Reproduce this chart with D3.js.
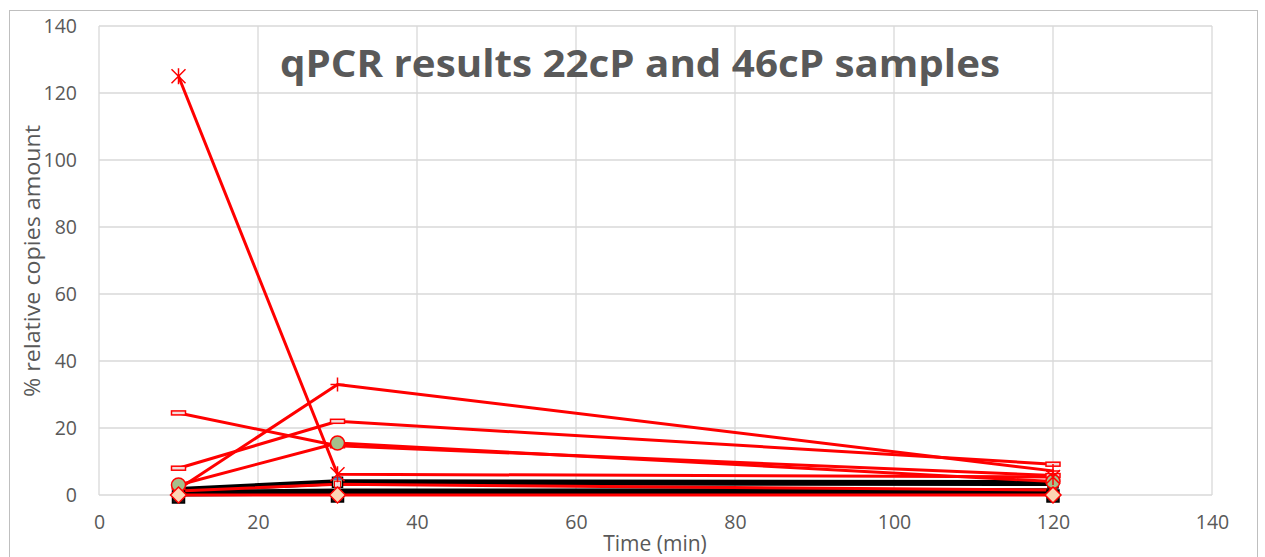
<!DOCTYPE html>
<html>
<head>
<meta charset="utf-8">
<script src="https://cdn.jsdelivr.net/npm/d3@7/dist/d3.min.js"></script>
<style>
  body { margin: 0; background: #fff; }
  text { font-family: "Open Sans", "Liberation Sans", sans-serif; }
</style>
</head>
<body>
<div id="chart"></div>
<script>
// sampling times (min)
var times = [10, 30, 120];
var xTicks = [0, 20, 40, 60, 80, 100, 120, 140];
var yTicks = [0, 20, 40, 60, 80, 100, 120, 140];

// % relative copies amount, red samples
var redStar    = [125, 6.2, 5.4];
var redPlus    = [1.8, 33, 7.2];
var redDashA   = [8, 22, 9.2];
var redDashB   = [24.5, 14.7, 5.8];
var redCircle  = [3, 15.5, 4];
var redLow     = [1.2, 3.2, 1.5];
var redDiamond = [0, 0, 0];
// black samples
var blackA = [1.5, 3.8, 3.6];
var blackB = [0.8, 1.2, 1.3];
var blackC = [0.3, 0.6, 0.6];

function set_chart(){
  var W = 1265, H = 557;
  var svg = d3.select("#chart").append("svg")
      .attr("width", W).attr("height", H);

  // outer chart frame
  svg.append("rect")
     .attr("x", 9.5).attr("y", 10.5)
     .attr("width", 1248).attr("height", 560)
     .attr("fill", "none").attr("stroke", "#bfbfbf").attr("stroke-width", 1);

  var x = d3.scaleLinear().domain([0, 140]).range([99, 1212]);
  var y = d3.scaleLinear().domain([0, 140]).range([495, 26]);

  // gridlines
  svg.append("g").selectAll("line").data(yTicks).enter().append("line")
     .attr("x1", x(0)).attr("x2", x(140))
     .attr("y1", function(d){ return y(d); }).attr("y2", function(d){ return y(d); })
     .attr("stroke", "#d9d9d9").attr("stroke-width", 1.3);
  svg.append("g").selectAll("line").data(xTicks).enter().append("line")
     .attr("y1", y(0)).attr("y2", y(140))
     .attr("x1", function(d){ return x(d); }).attr("x2", function(d){ return x(d); })
     .attr("stroke", "#d9d9d9").attr("stroke-width", 1.3);

  // axes (labels only, Excel style)
  var xAxis = svg.append("g").attr("transform", "translate(0," + y(0) + ")")
     .call(d3.axisBottom(x).tickValues(xTicks).tickSize(0).tickPadding(20));
  var yAxis = svg.append("g").attr("transform", "translate(" + x(0) + ",0)")
     .call(d3.axisLeft(y).tickValues(yTicks).tickSize(0).tickPadding(22));
  [xAxis, yAxis].forEach(function(a){
    a.select(".domain").remove();
    a.selectAll("text").attr("fill", "#595959")
     .style("font-size", "19.5px").style("font-family", "'Open Sans', sans-serif");
  });

  // title
  svg.append("text")
     .attr("x", 640).attr("y", 77)
     .attr("text-anchor", "middle")
     .attr("textLength", 720).attr("lengthAdjust", "spacingAndGlyphs")
     .style("font-size", "37px").style("font-weight", "bold")
     .style("font-family", "'Open Sans', sans-serif")
     .attr("fill", "#595959")
     .text("qPCR results 22cP and 46cP samples");

  // axis titles
  svg.append("text")
     .attr("x", 655).attr("y", 551)
     .attr("text-anchor", "middle")
     .style("font-size", "21px").attr("fill", "#595959")
     .text("Time (min)");
  svg.append("text")
     .attr("transform", "translate(40,261) rotate(-90)")
     .attr("text-anchor", "middle")
     .attr("textLength", 272).attr("lengthAdjust", "spacingAndGlyphs")
     .style("font-size", "22px").attr("fill", "#595959")
     .text("% relative copies amount");

  var series = [
    {v: blackC, color: "#000", w: 5, marker: "square"},
    {v: blackB, color: "#000", w: 5, marker: "none"},
    {v: blackA, color: "#000", w: 6, marker: "bluesq"},
    {v: redLow, color: "red", w: 3, marker: "smallsq"},
    {v: redDashA, color: "red", w: 3, marker: "dash"},
    {v: redDashB, color: "red", w: 3, marker: "dash"},
    {v: redPlus, color: "red", w: 3, marker: "plus"},
    {v: redCircle, color: "red", w: 3, marker: "circle"},
    {v: redStar, color: "red", w: 3, marker: "star"},
    {v: redDiamond, color: "red", w: 3, marker: "diamond"}
  ];

  var line = d3.line()
     .x(function(d, i){ return x(times[i]); })
     .y(function(d){ return y(d); });

  series.forEach(function(s){
    svg.append("path").datum(s.v)
       .attr("d", line)
       .attr("fill", "none")
       .attr("stroke", s.color)
       .attr("stroke-width", s.w)
       .attr("stroke-linejoin", "round");
  });

  series.forEach(function(s){
    var g = svg.append("g");
    var pts = g.selectAll("g").data(s.v).enter().append("g")
       .attr("transform", function(d, i){ return "translate(" + x(times[i]) + "," + y(d) + ")"; });
    if (s.marker == "square") {
      pts.append("rect").attr("x", -6).attr("y", -3).attr("width", 12).attr("height", 12)
         .attr("fill", "#1a1a1a").attr("stroke", "#000").attr("stroke-width", 1.5);
    } else if (s.marker == "bluesq") {
      pts.append("rect").attr("x", -5).attr("y", -5).attr("width", 10).attr("height", 10)
         .attr("fill", "#f2c9a0").attr("stroke", "#000").attr("stroke-width", 1.5);
      pts.append("rect").attr("x", -4).attr("y", -5).attr("width", 8).attr("height", 3)
         .attr("fill", "#4f81bd");
    } else if (s.marker == "smallsq") {
      pts.append("rect").attr("x", -3).attr("y", -3).attr("width", 6).attr("height", 6)
         .attr("fill", "#f2dcdb").attr("stroke", "red").attr("stroke-width", 1);
    } else if (s.marker == "dash") {
      pts.append("rect").attr("x", -7).attr("y", -2).attr("width", 14).attr("height", 4)
         .attr("fill", "#f2dcdb").attr("stroke", "red").attr("stroke-width", 1.5);
    } else if (s.marker == "plus") {
      pts.append("path").attr("d", "M-7,0H7M0,-7V7")
         .attr("stroke", "red").attr("stroke-width", 1.5);
    } else if (s.marker == "star") {
      pts.append("path").attr("d", "M-7,-7L7,7M-7,7L7,-7M0,-8V8")
         .attr("stroke", "red").attr("stroke-width", 1.5);
    } else if (s.marker == "circle") {
      pts.append("circle").attr("r", 7)
         .attr("fill", "#a5c08b").attr("stroke", "red").attr("stroke-width", 1.5);
    } else if (s.marker == "diamond") {
      pts.append("path").attr("d", "M0,-8L8,0L0,8L-8,0Z")
         .attr("fill", "#fcd5b4").attr("stroke", "red").attr("stroke-width", 1.5);
    }
  });
}
set_chart();
</script>
</body>
</html>
